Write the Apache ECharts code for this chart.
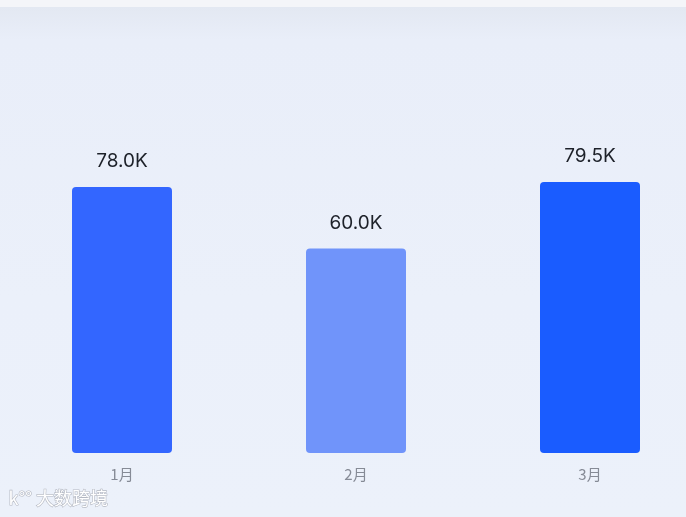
<!DOCTYPE html>
<html>
<head>
<meta charset="utf-8">
<script src="https://cdn.jsdelivr.net/npm/echarts@6/dist/echarts.min.js"></script>
<style>
html,body{margin:0;padding:0;width:686px;height:517px;overflow:hidden;}
body{background:linear-gradient(to bottom,#f4f5f9 0px,#f4f5f9 7px,#e3e8f2 7px,#e9eef9 40px,#ebf0fa 300px,#ecf1fa 517px);}
#chart{width:686px;height:517px;}
</style>
</head>
<body>
<div id="chart"></div>
<script>
var categories = ['1月', '2月', '3月'];
var values = [78000, 60000, 79500];
var barColors = ['#3366ff', '#7094fa', '#1a5cff'];
var yMax = 100000;

var chart = echarts.init(document.getElementById('chart'), null, {renderer: 'canvas'});
chart.setOption({
  backgroundColor: 'transparent',
  animation: false,
  grid: {left: 5, top: 112, width: 702, height: 341, containLabel: false, outerBoundsMode: 'none'},
  xAxis: {
    type: 'category',
    data: categories,
    axisLine: {show: false},
    axisTick: {show: false},
    axisLabel: {color: '#868b96', fontSize: 15, margin: 14, fontFamily: 'Noto Sans CJK SC'}
  },
  yAxis: {
    type: 'value',
    min: 0,
    max: yMax,
    show: false,
    splitLine: {show: false}
  },
  series: [{
    type: 'bar',
    barWidth: 100,
    data: values.map(function (v, i) {
      return {value: v, itemStyle: {color: barColors[i]}};
    }),
    itemStyle: {borderRadius: 4},
    label: {
      show: true,
      position: 'top',
      distance: 16,
      color: '#1d2129',
      fontSize: 19,
      fontFamily: 'Inter',
      formatter: function (p) { return (p.value / 1000).toFixed(1) + 'K'; }
    }
  }],
  graphic: [{
    type: 'text',
    left: 8,
    top: 489,
    style: {
      text: 'k°° 大数跨境',
      fill: '#ffffff',
      stroke: '#b4b8c2',
      lineWidth: 1.2,
      fontSize: 18,
      fontFamily: 'Noto Sans CJK SC'
    }
  }]
});
</script>
</body>
</html>
